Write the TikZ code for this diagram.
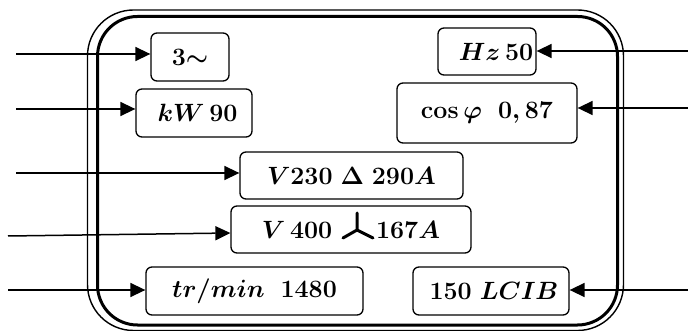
\RequirePackage{fix-cm}
\documentclass[tikz,border=0pt]{standalone}
\usetikzlibrary{arrows.meta}
\begin{document}
\begin{tikzpicture}[x=1pt,y=-1pt,
  plate/.style={draw,rounded corners=6pt,line width=1.3pt,inner sep=0pt,font=\fontsize{25}{30}\selectfont\boldmath},
  feed/.style={line width=1.5pt,-{Triangle[length=15pt,width=14pt]}}]
\useasboundingbox (0,0) rectangle (688,331);
% frame
\draw[line width=1.4pt,rounded corners=46pt] (87.5,10) rectangle (623.5,330.5);
\draw[line width=3pt,rounded corners=40pt] (97.5,16.5) rectangle (617.5,325);
% boxes
\node[plate,minimum width=78pt,minimum height=48pt] (b1) at (190,57) {$3{\sim}$};
\node[plate,minimum width=116pt,minimum height=48pt] (b2) at (194,113) {\hspace{7pt}$kW\,90$};
\node[plate,minimum width=223pt,minimum height=47pt] (b3) at (351.5,175.5) {$V230\;\Delta\;290A$};
\node[plate,minimum width=240pt,minimum height=47pt] (b4) at (351,229.5) {$V\,400$\hspace{44pt}$167A$};
\node[plate,minimum width=217pt,minimum height=48pt] (b5) at (254.5,291) {$tr/min\;\;1480$};
\node[plate,minimum width=98pt,minimum height=47pt] (b6) at (487,51.5) {\hspace{18pt}$Hz\,50$};
\node[plate,minimum width=180pt,minimum height=60pt] (b7) at (487,113) {$\cos\varphi\;\;0,87$};
\node[plate,minimum width=156pt,minimum height=48pt] (b8) at (491,291) {\hspace{6pt}$150\;LCIB$};
% wye symbol
\draw[line width=3pt,line cap=round,line join=round] (357,213) -- (357,230) (343,238) -- (357,230) -- (373,238);
% arrows
\coordinate (s1) at (16,54);
\coordinate (s2) at (16,109);
\coordinate (s3) at (16,173);
\coordinate (s4) at (8,236);
\coordinate (s5) at (8,290);
\coordinate (s6) at (688,51);
\coordinate (s7) at (688,108);
\coordinate (s8) at (688,290);
\draw[feed] (s1) -- (s1 -| b1.west);
\draw[feed] (s2) -- (s2 -| b2.west);
\draw[feed] (s3) -- (s3 -| b3.west);
\draw[feed] (s4) -- ([yshift=-3.5pt]b4.west);
\draw[feed] (s5) -- (s5 -| b5.west);
\draw[feed] (s6) -- (s6 -| b6.east);
\draw[feed] (s7) -- (s7 -| b7.east);
\draw[feed] (s8) -- (s8 -| b8.east);
\end{tikzpicture}
\end{document}
